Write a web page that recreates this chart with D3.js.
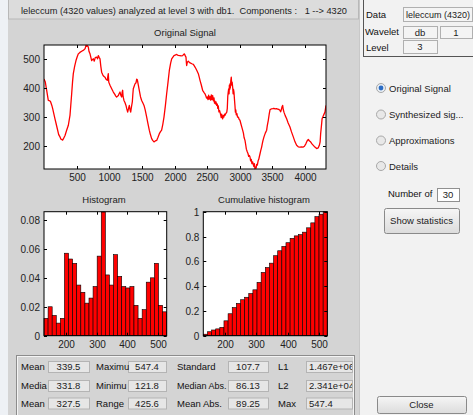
<!DOCTYPE html>
<html><head><meta charset="utf-8">
<script src="https://cdn.jsdelivr.net/npm/d3@7"></script>
<style>
html,body{margin:0;padding:0;background:#f0f0f0;}
svg{display:block;font-family:"Liberation Sans",Arial,sans-serif;}
text{white-space:pre;}
</style></head>
<body><svg id="c" width="473" height="415"></svg>
<script>
// ---------------- data ----------------
const signalIndex = [0,20,41,66,90,102,120,133,150,168,185,204,225,245,260,271,285,296,322,347,373,398,410,424,437,449,470,490,510,526,550,577,600,613,630,643,655,665,679,690,705,718,730,745,756,770,785,807,820,832,845,858,870,883,900,915,934,950,970,978,985,992,1011,1035,1062,1085,1100,1113,1130,1139,1150,1164,1175,1190,1197,1205,1212,1225,1240,1256,1268,1282,1295,1307,1318,1328,1340,1353,1360,1368,1380,1394,1410,1420,1430,1445,1460,1478,1496,1515,1532,1550,1573,1590,1613,1630,1649,1665,1685,1705,1726,1745,1767,1785,1802,1820,1838,1860,1879,1900,1920,1940,1956,1975,1991,2010,2032,2055,2083,2100,2124,2140,2150,2165,2175,2180,2185,2195,2211,2230,2247,2265,2288,2305,2328,2345,2364,2378,2390,2410,2430,2450,2466,2480,2490,2502,2512,2522,2532,2543,2553,2563,2573,2584,2594,2604,2612,2619,2627,2635,2645,2655,2662,2670,2680,2690,2706,2715,2722,2737,2745,2755,2765,2773,2785,2800,2808,2815,2822,2829,2835,2840,2845,2849,2855,2862,2869,2875,2882,2890,2897,2903,2910,2918,2925,2932,2938,2945,2955,2965,2977,2990,3002,3015,3025,3043,3055,3065,3079,3090,3100,3115,3125,3135,3146,3156,3165,3175,3185,3196,3205,3215,3222,3232,3240,3250,3258,3268,3280,3290,3298,3310,3320,3334,3345,3355,3370,3390,3411,3420,3436,3450,3462,3480,3503,3520,3540,3564,3580,3600,3615,3625,3635,3646,3656,3666,3676,3695,3717,3740,3768,3790,3819,3845,3870,3895,3921,3945,3972,3990,4013,4030,4049,4067,4084,4105,4126,4150,4177,4200,4218,4230,4238,4250,4260,4280,4304,4320];
const signalValue = [431,420,392,357,356,352,340,329,312,294,278,260,240,232,224,223,221,225,237,255,272,306,340,380,420,449,475,494,508,517,522,526,529,531,535,546,543,545,540,525,517,505,494,498,500,492,504,506,500,511,505,500,475,454,445,440,437,430,426,440,449,420,409,398,386,378,372,369,372,374,380,386,376,369,385,392,370,357,350,340,328,317,330,340,325,317,335,352,375,397,405,414,418,430,428,410,392,370,357,348,340,325,300,280,255,240,226,220,215,218,220,230,243,250,255,275,300,340,380,420,460,485,500,506,511,513,515,512,511,510,511,515,517,510,506,490,477,488,492,487,485,483,481,475,466,458,449,437,426,410,392,385,380,372,365,369,360,375,362,370,358,376,360,374,356,366,348,355,345,352,340,345,330,338,318,322,308,298,310,294,305,300,310,306,312,317,330,370,385,397,380,410,395,414,400,425,437,410,420,403,380,395,386,360,340,317,325,308,312,300,300,292,289,278,270,255,245,230,220,205,190,180,175,165,168,163,150,155,140,146,138,130,140,123,128,125,138,135,150,155,163,175,185,197,210,220,232,245,255,270,289,310,325,328,329,330,328,329,327,326,323,318,325,335,340,325,317,305,294,280,266,250,232,215,203,198,197,198,197,200,209,218,223,218,215,208,203,197,192,194,203,215,243,270,294,305,317,340];
const signalXTicks = [500,1000,1500,2000,2500,3000,3500,4000];
const signalYTicks = [200,300,400,500];
const signalRange = [121.8, 547.4];
const signalLength = 4320;

const histFreq = [0.012,0.020,0.014,0.0087,0.012,0.057,0.053,0.050,0.035,0.030,0.0225,0.026,0.034,0.055,0.0855,0.042,0.035,0.056,0.041,0.034,0.033,0.034,0.021,0.012,0.018,0.037,0.040,0.050,0.021,0.0165];
const cumFreq = [0.012,0.032,0.046,0.055,0.067,0.12,0.177,0.227,0.26,0.29,0.31,0.34,0.37,0.43,0.51,0.55,0.585,0.645,0.685,0.72,0.75,0.785,0.805,0.815,0.835,0.87,0.91,0.96,0.98,1.0];
const histXTicks = [200,300,400,500];
const histYTicks = [0,0.02,0.04,0.06,0.08];
const cumYTicks = [0,0.2,0.4,0.6,0.8,1];
const histDomain = [130, 527];

const statLabels = [["Mean","Media","Mean"],["Maximu","Minimu","Range"],["Standard","Median Abs.","Mean Abs."],["L1","L2","Max"]];
const statValues = [["339.5","331.8","327.5"],["547.4","121.8","425.6"],["107.7","86.13","89.25"],["1.467e+06","2.341e+04","547.4"]];
const radioLabels = ["Original Signal","Synthesized sig...","Approximations","Details"];
const headerText = "leleccum (4320 values) analyzed at level 3 with db1.  Components :   1 --> 4320";

// ---------------- drawing ----------------
const svg = d3.select("#c");
const FS = 9.5;
// backgrounds
svg.append("rect").attr("x",0).attr("y",0).attr("width",473).attr("height",415).attr("fill","#f2f2f2");
svg.append("rect").attr("x",0).attr("y",0).attr("width",8).attr("height",415).attr("fill","#eef1f5");
svg.append("rect").attr("x",8).attr("y",0).attr("width",351).attr("height",415).attr("fill","#d4d4d4");
// header
svg.append("rect").attr("x",8.5).attr("y",-1).attr("width",350).attr("height",20).attr("fill","#dcdcdc").attr("stroke","#b8b8b8");
svg.append("text").attr("x",21).attr("y",13.5).attr("font-size",FS).attr("fill","#222")
  .attr("textLength",326).attr("lengthAdjust","spacingAndGlyphs").text(headerText);
// right panel
svg.append("line").attr("x1",363.5).attr("x2",363.5).attr("y1",0).attr("y2",57).attr("stroke","#555");
svg.append("line").attr("x1",363).attr("x2",473).attr("y1",56.5).attr("y2",56.5).attr("stroke","#555");
svg.append("line").attr("x1",359.5).attr("x2",359.5).attr("y1",0).attr("y2",415).attr("stroke","#c8c8c8");

function box(x,y,w,h,txt,opts={}){
  const g = svg.append("g");
  g.append("rect").attr("x",x+0.5).attr("y",y+0.5).attr("width",w).attr("height",h)
    .attr("fill",opts.fill||"#ececec").attr("stroke",opts.stroke||"#b0b0b0");
  if(txt!==undefined){
    const t = g.append("text")
      .attr("x",opts.left? x+3 : x+w/2).attr("y",y+h/2+3.5)
      .attr("text-anchor",opts.left?"start":"middle").attr("font-size",opts.fs||FS).attr("fill","#222").text(txt);
    if(opts.clip){
      const id = "clip"+Math.round(x)+"_"+Math.round(y);
      g.append("clipPath").attr("id",id).append("rect").attr("x",x+1).attr("y",y).attr("width",w-1).attr("height",h);
      t.attr("clip-path",`url(#${id})`);
    }
  }
  return g;
}
const rlab = (x,y,t)=>svg.append("text").attr("x",x).attr("y",y).attr("font-size",FS).attr("fill","#111").text(t);
rlab(366,18,"Data"); box(403,7,69,14,"leleccum (4320)",{left:true,fill:"#f4f4f4",fs:9});
rlab(365,35,"Wavelet"); box(403,26,34,12,"db",{fill:"#f4f4f4"}); box(440,26,32,12,"1",{fill:"#f4f4f4"});
rlab(366,51,"Level"); box(403,40,34,13,"3",{fill:"#f4f4f4"});

const radioY = [88,114.5,140.5,166];
radioLabels.forEach((t,i)=>{
  const g = svg.append("g");
  g.append("circle").attr("cx",381).attr("cy",radioY[i]).attr("r",4.5).attr("fill", i===0?"#e8eef4":"#e8e8e8").attr("stroke","#a8a8a8");
  if(i===0) g.append("circle").attr("cx",381).attr("cy",radioY[i]).attr("r",2.4).attr("fill","#2b6cc4");
  g.append("text").attr("x",389).attr("y",radioY[i]+3.5).attr("font-size",FS).attr("fill","#222").text(t);
});
rlab(388,197,"Number of");
box(437,188,22,13,"30",{fill:"#ffffff",stroke:"#909090"});
function button(x,y,w,h,t){
  const grad = svg.append("defs").append("linearGradient").attr("id","bg"+y).attr("x1",0).attr("x2",0).attr("y1",0).attr("y2",1);
  grad.append("stop").attr("offset","0").attr("stop-color","#f6f6f6");
  grad.append("stop").attr("offset","1").attr("stop-color","#dcdcdc");
  svg.append("rect").attr("x",x+0.5).attr("y",y+0.5).attr("width",w).attr("height",h).attr("rx",2)
    .attr("fill",`url(#bg${y})`).attr("stroke","#8a8a8a");
  svg.append("text").attr("x",x+w/2).attr("y",y+h/2+3.5).attr("text-anchor","middle").attr("font-size",FS).attr("fill","#222").text(t);
}
button(384,208,75,25,"Show statistics");
button(377,396,89,17,"Close");

// axes helper (MATLAB-like: ticks inward on all four sides)
function frame(x,y,w,h){
  svg.append("rect").attr("x",x).attr("y",y).attr("width",w).attr("height",h).attr("fill","#fff");
}
function axesBox(xs,ys,xt,yt,fmtX,fmtY){
  const [x0,x1] = xs.range(), [y0,y1] = ys.range();
  const L = 3;
  const g = svg.append("g");
  g.append("rect").attr("x",x0).attr("y",y1).attr("width",x1-x0).attr("height",y0-y1).attr("fill","none").attr("stroke","#000").attr("stroke-width",1);
  xt.forEach(v=>{
    const px = Math.round(xs(v))+0.5;
    g.append("line").attr("x1",px).attr("x2",px).attr("y1",y0).attr("y2",y0-L).attr("stroke","#000");
    g.append("line").attr("x1",px).attr("x2",px).attr("y1",y1).attr("y2",y1+L).attr("stroke","#000");
    g.append("text").attr("x",px).attr("y",y0+12).attr("text-anchor","middle").attr("font-size",10).attr("fill","#222").text(fmtX(v));
  });
  yt.forEach(v=>{
    const py = Math.round(ys(v))+0.5;
    g.append("line").attr("x1",x0).attr("x2",x0+L).attr("y1",py).attr("y2",py).attr("stroke","#000");
    g.append("line").attr("x1",x1).attr("x2",x1-L).attr("y1",py).attr("y2",py).attr("stroke","#000");
    g.append("text").attr("x",x0-4).attr("y",py+3.5).attr("text-anchor","end").attr("font-size",10).attr("fill","#222").text(fmtY(v));
  });
}
const title = (x,y,t)=>svg.append("text").attr("x",x).attr("y",y).attr("text-anchor","middle").attr("font-size",9.5).attr("fill","#222").text(t);

// ---- Original signal ----
const sx = d3.scaleLinear().domain([0,signalLength]).range([44,326]);
const sy = d3.scaleLinear().domain(signalRange).range([169,45]);
frame(44,45,282,124);
title(185,36,"Original Signal");
const clipS = svg.append("clipPath").attr("id","clipS").append("rect").attr("x",44).attr("y",44).attr("width",282).attr("height",126);
svg.append("path").attr("clip-path","url(#clipS)")
  .datum(d3.range(signalIndex.length))
  .attr("d", d3.line().x(i=>sx(signalIndex[i])).y(i=>sy(signalValue[i])))
  .attr("fill","none").attr("stroke","#ff0000").attr("stroke-width",1.3).attr("stroke-linejoin","round");
axesBox(sx,sy,signalXTicks,signalYTicks,d3.format("d"),d3.format("d"));

// ---- Histogram ----
const binW = (histDomain[1]-histDomain[0])/histFreq.length;
const hx = d3.scaleLinear().domain(histDomain).range([44,166.7]);
const hy = d3.scaleLinear().domain([0,0.0857]).range([335.7,211.7]);
frame(44,211.7,122.7,124);
title(104,203,"Histogram");
svg.append("g").selectAll("rect").data(histFreq).join("rect")
  .attr("x",(d,i)=>hx(histDomain[0]+i*binW)).attr("width",(d,i)=>hx(histDomain[0]+(i+1)*binW)-hx(histDomain[0]+i*binW))
  .attr("y",d=>hy(d)).attr("height",d=>hy(0)-hy(d))
  .attr("fill","#ff0000").attr("stroke","#000").attr("stroke-width",0.6);
axesBox(hx,hy,histXTicks,histYTicks,d3.format("d"),v=>v===0?"0":d3.format(".2f")(v));

// ---- Cumulative histogram ----
const cx = d3.scaleLinear().domain(histDomain).range([203.3,327.3]);
const cy = d3.scaleLinear().domain([0,1]).range([335.7,211.7]);
frame(203.3,211.7,124,124);
title(264,203,"Cumulative histogram");
svg.append("g").selectAll("rect").data(cumFreq).join("rect")
  .attr("x",(d,i)=>cx(histDomain[0]+i*binW)).attr("width",(d,i)=>cx(histDomain[0]+(i+1)*binW)-cx(histDomain[0]+i*binW))
  .attr("y",d=>cy(d)).attr("height",d=>cy(0)-cy(d))
  .attr("fill","#ff0000").attr("stroke","#000").attr("stroke-width",0.6);
axesBox(cx,cy,histXTicks,cumYTicks,d3.format("d"),v=>(v===0||v===1)?String(v):d3.format(".1f")(v));

// ---- statistics panel ----
svg.append("rect").attr("x",16.5).attr("y",355.5).attr("width",338).attr("height",70).attr("fill","none").attr("stroke","#8c8c8c");
svg.append("rect").attr("x",17.5).attr("y",356.5).attr("width",336).attr("height",68).attr("fill","none").attr("stroke","#f4f4f4");
const colLabelX = [21,96,177,278];
const colBox = [[48,41],[128,38],[228,40],[306,46]];
const rowY = [361,380,397.5];
statLabels.forEach((col,c)=>col.forEach((lab,r)=>{
  box(colBox[c][0],rowY[r],colBox[c][1],11,statValues[c][r],{fill:"#e6e6e6",stroke:"#b4b4b4",clip:c===3,left:c===3});
}));
statLabels.forEach((col,c)=>col.forEach((lab,r)=>{
  svg.append("text").attr("x",colLabelX[c]).attr("y",rowY[r]+9).attr("font-size",lab==="Median Abs."?9:FS).attr("fill","#111").text(lab);
}));
</script></body></html>
